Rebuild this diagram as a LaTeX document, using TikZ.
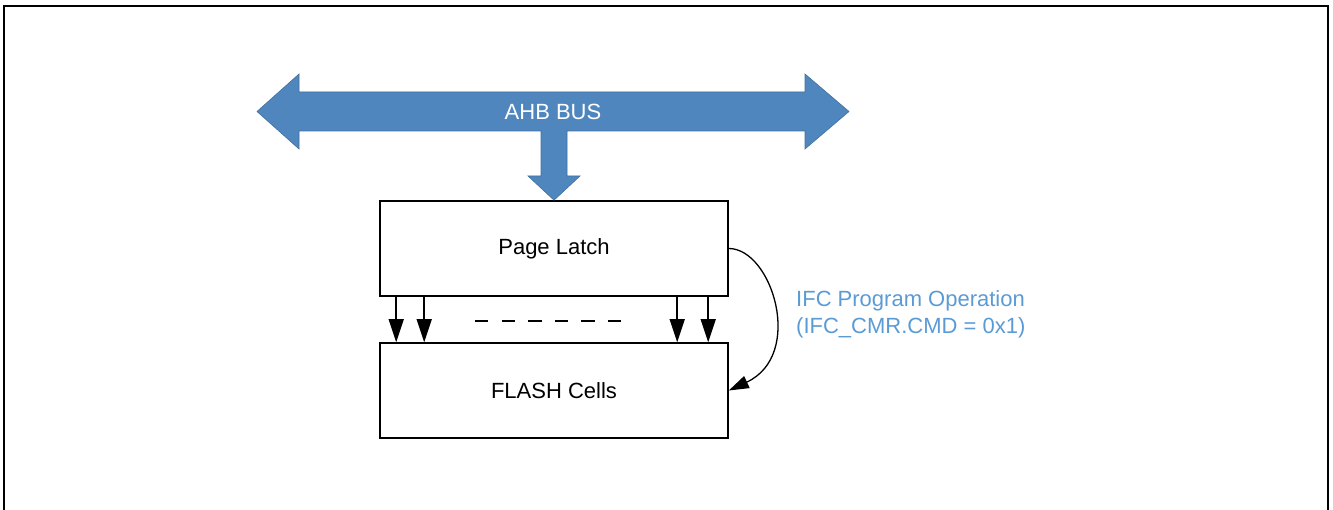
\documentclass[tikz,border=0pt]{standalone}
\usepackage{fontspec}
\setmainfont{Liberation Sans}
\usetikzlibrary{arrows.meta,calc}
\definecolor{busfill}{RGB}{79,134,189}
\definecolor{busedge}{RGB}{65,113,160}
\definecolor{lblue}{RGB}{91,155,213}
\tikzset{
  box/.style={draw=black,line width=1.6pt,minimum width=348pt,minimum height=95pt,inner sep=0pt,font=\fontsize{22}{26}\selectfont},
  arr/.style={draw=black,line width=1.6pt,-{Triangle[width=15pt,length=23pt]}},
  carr/.style={draw=black,line width=1.3pt,-{Triangle[width=13pt,length=20pt]}},
}
\begin{document}
\begin{tikzpicture}[x=1pt,y=-1pt]
\useasboundingbox (0,0) rectangle (1333,510);
% outer frame (bottom edge out of view)
\draw[line width=2pt] (4,512) -- (4,6.5) -- (1327.5,6.5) -- (1327.5,512);
% boxes
\node[box] (pl) at (554,248.5) {Page Latch};
\node[box] (fc) at (554,390.5) {FLASH Cells};
% bus arrow with down branch
\draw[fill=busfill,draw=busedge,line width=0.6pt]
  (257,111.5) -- (299,74) -- (299,92) -- (805,92) -- (805,74) -- (849,111.5)
  -- (805,149) -- (805,131) -- (567,131) -- (567,176) -- (580,176)
  -- (pl.north) -- (528,176) -- (541,176) -- (541,131) -- (299,131)
  -- (299,149) -- cycle;
\node[text=white,font=\fontsize{22}{26}\selectfont] (bus) at (553,111.5) {AHB BUS};
% vertical arrows
\foreach \dx in {17,45,298,329}{
  \draw[arr] ($(pl.south west)+(\dx,0)$) -- ($(fc.north west)+(\dx,0)$);
}
% dashes
\draw[line width=1.8pt,dash pattern=on 13.3pt off 13.3pt] (475,321) -- (622,321);
% curved arrow
\draw[carr] (pl.east) .. controls (772,248.5) and (805,355) .. (fc.east);
% label
\node[anchor=west,align=left,text=lblue,inner sep=0pt,font=\fontsize{22}{27}\selectfont] (lbl) at (796,314.5) {IFC Program Operation\\(IFC\_CMR.CMD = 0x1)};
\end{tikzpicture}
\end{document}
